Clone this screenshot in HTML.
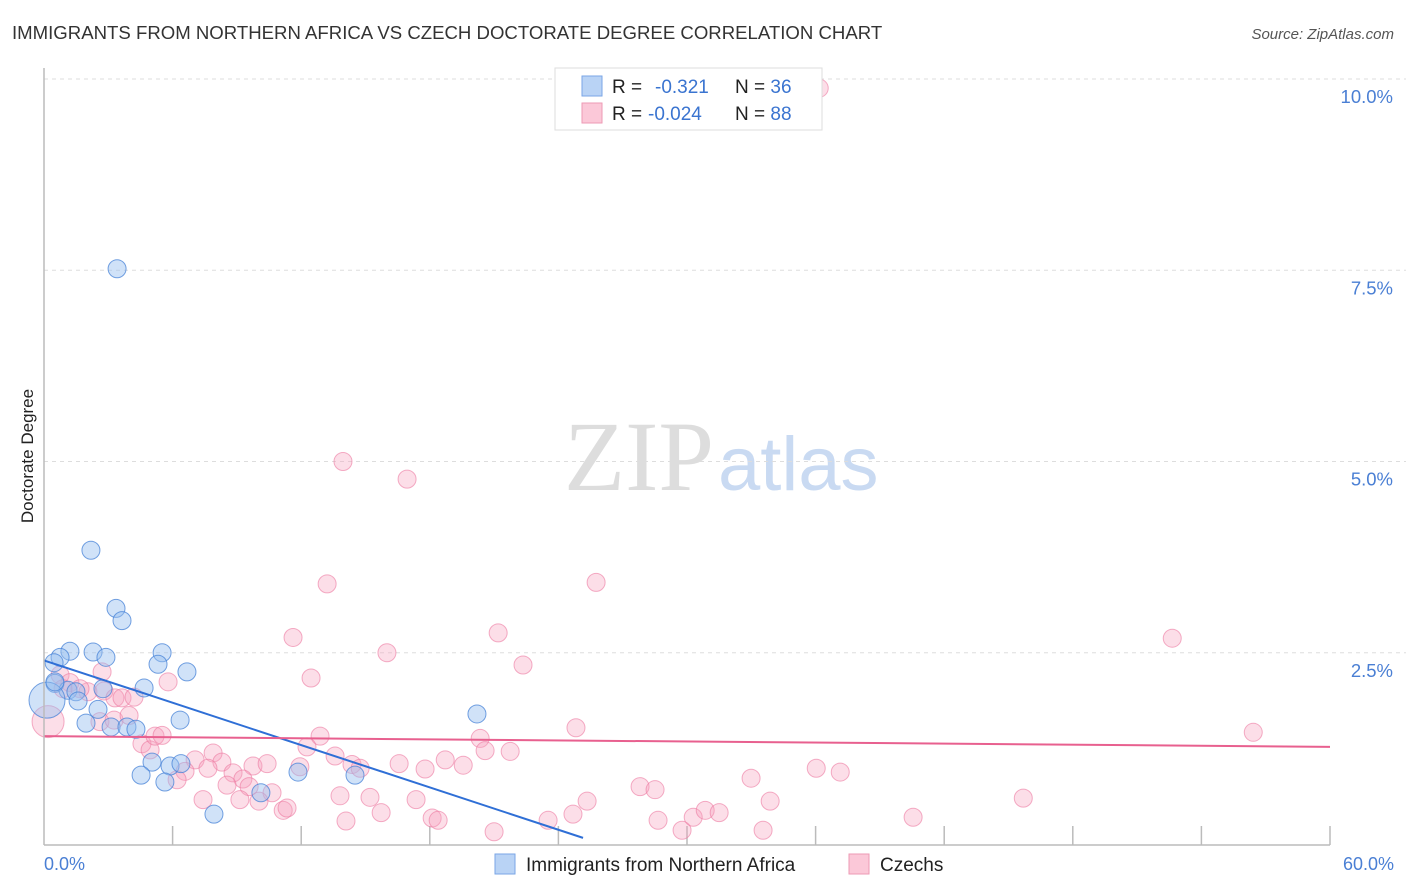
<!DOCTYPE html>
<html><head><meta charset="utf-8"><style>
body{margin:0;background:#fff;font-family:"Liberation Sans",sans-serif;}
svg{display:block}
</style></head><body>
<svg id="c" width="1406" height="892">
<text x="12" y="39" font-size="18.6" fill="#333">IMMIGRANTS FROM NORTHERN AFRICA VS CZECH DOCTORATE DEGREE CORRELATION CHART</text>
<text x="1394" y="39" font-size="15" fill="#555" font-style="italic" text-anchor="end">Source: ZipAtlas.com</text>
<text x="714" y="490" font-size="100" fill="#ddd" font-family="Liberation Serif" text-anchor="end">ZIP</text>
<text x="718" y="490" font-size="76" fill="#c9daf2">atlas</text>
<text transform="translate(33,456) rotate(-90)" font-size="17" fill="#222" text-anchor="middle">Doctorate Degree</text>
<g id="grid"></g><g id="pts"></g><g id="lines"></g>
<line x1="44" y1="68" x2="44" y2="845" stroke="#bbb" stroke-width="1.5"/>
<line x1="44" y1="845" x2="1330" y2="845" stroke="#bbb" stroke-width="1.5"/>
<text x="44" y="870" font-size="18" fill="#4a7fd4">0.0%</text>
<text x="1394" y="870" font-size="18" fill="#4a7fd4" text-anchor="end">60.0%</text>
<g>
<rect x="555" y="68" width="267" height="62" fill="#fff" stroke="#ddd"/>
<rect x="582" y="76" width="20" height="20" fill="#b9d3f5" stroke="#7aa6e6"/>
<rect x="582" y="103" width="20" height="20" fill="#fbc8d8" stroke="#ee9ab4"/>
<text x="612" y="93" font-size="19" fill="#222">R = <tspan fill="#3a74d0" x="655">-0.321</tspan><tspan fill="#222" x="735">N = </tspan><tspan fill="#3a74d0">36</tspan></text>
<text x="612" y="120" font-size="19" fill="#222">R = <tspan fill="#3a74d0" x="648">-0.024</tspan><tspan fill="#222" x="735">N = </tspan><tspan fill="#3a74d0">88</tspan></text>
</g>
<g>
<rect x="495" y="854" width="20" height="20" fill="#b9d3f5" stroke="#7aa6e6"/>
<text x="526" y="871" font-size="19" fill="#222">Immigrants from Northern Africa</text>
<rect x="849" y="854" width="20" height="20" fill="#fbc8d8" stroke="#ee9ab4"/>
<text x="880" y="871" font-size="19" fill="#222">Czechs</text>
</g>
</svg>
<script>
const yTicks=[2.5,5,7.5,10];
const yTickLabels=["2.5%","5.0%","7.5%","10.0%"];
const blueX=[3.41,2.19,3.36,3.64,1.21,2.29,2.89,5.51,5.32,6.67,0.75,0.47,0.51,1.12,2.75,4.67,1.49,1.59,2.52,6.35,1.96,3.13,3.87,4.29,5.04,5.88,6.39,4.53,5.64,7.93,10.12,11.85,14.51,20.2,0.14,0.51];
const blueY=[7.52,3.84,3.08,2.92,2.52,2.51,2.44,2.5,2.35,2.25,2.44,2.37,2.1,2.01,2.03,2.04,1.99,1.87,1.76,1.62,1.58,1.53,1.53,1.5,1.07,1.02,1.05,0.9,0.81,0.39,0.67,0.94,0.9,1.7,1.88,2.12];
const blueR=[9,9,9,9,9,9,9,9,9,9,9,9,9,9,9,9,9,9,9,9,9,9,9,9,9,9,9,9,9,9,9,9,9,9,18,9];
const pinkX=[36.17,13.95,16.94,13.21,25.76,11.62,21.19,52.64,16.0,22.35,12.46,56.42,24.82,2.71,5.79,0.75,1.21,2.05,2.8,3.31,3.64,4.2,0.89,1.68,0.19,2.61,3.27,3.97,4.57,4.95,5.18,5.51,12.88,12.27,13.58,20.35,20.58,21.75,7.89,7.05,8.3,7.65,6.58,6.21,8.82,9.75,10.41,9.28,8.54,9.57,11.94,14.37,14.75,16.57,17.78,18.72,19.56,10.64,10.03,9.14,7.42,11.16,11.34,13.81,15.21,17.36,18.11,18.39,15.73,14.09,21.0,23.52,24.68,25.34,27.81,28.51,28.65,29.77,30.29,30.85,31.5,32.99,33.88,33.55,36.03,37.15,40.55,45.69];
const pinkY=[9.88,5.0,4.77,3.4,3.42,2.7,2.76,2.69,2.5,2.34,2.17,1.46,1.52,2.25,2.12,2.21,2.11,1.99,2.0,1.91,1.91,1.92,2.03,2.03,1.6,1.6,1.62,1.68,1.31,1.23,1.41,1.42,1.41,1.27,1.15,1.38,1.22,1.21,1.19,1.1,1.07,0.99,0.95,0.84,0.93,1.02,1.05,0.85,0.77,0.75,1.01,1.04,0.99,1.05,0.98,1.1,1.03,0.67,0.56,0.58,0.58,0.44,0.47,0.63,0.61,0.58,0.34,0.31,0.41,0.3,0.16,0.31,0.39,0.56,0.75,0.71,0.31,0.18,0.35,0.44,0.41,0.86,0.56,0.18,0.99,0.94,0.35,0.6];
const pinkR=[9,9,9,9,9,9,9,9,9,9,9,9,9,9,9,9,9,9,9,9,9,9,9,9,16,9,9,9,9,9,9,9,9,9,9,9,9,9,9,9,9,9,9,9,9,9,9,9,9,9,9,9,9,9,9,9,9,9,9,9,9,9,9,9,9,9,9,9,9,9,9,9,9,9,9,9,9,9,9,9,9,9,9,9,9,9,9,9];
const blueLine=[0,2.4,25.15,0.08];
const pinkLine=[0,1.41,60,1.27];
const xTicks=[6,12,18,24,30,36,42,48,54,60];
const NS='http://www.w3.org/2000/svg';
const sx=v=>44+v/60*1286, sy=v=>844-v*76.5;
function mk(t,a,p){const e=document.createElementNS(NS,t);for(const k in a)e.setAttribute(k,a[k]);p.appendChild(e);return e;}
const grid=document.getElementById('grid'),pts=document.getElementById('pts'),lines=document.getElementById('lines');
yTicks.forEach((v,i)=>{
 const l=mk('line',{x1:44,x2:1420,y1:sy(v),y2:sy(v),stroke:'#ddd','stroke-dasharray':'4,4'},grid);
 
 
 const t=mk('text',{x:1393,y:sy(v)+24,'font-size':18.5,fill:'#4a7fd4','text-anchor':'end'},grid);
 t.textContent=yTickLabels[i];
 
 
});
xTicks.forEach(v=>{
 const l=mk('line',{x1:sx(v),x2:sx(v),y1:826,y2:845,stroke:'#bbb','stroke-width':1.5},grid);
 
 
});
pinkX.forEach((v,i)=>{
 const c=mk('circle',{cx:sx(v),cy:sy(pinkY[i]),r:pinkR[i],fill:'rgba(247,160,190,0.35)',stroke:'rgba(236,120,160,0.6)','stroke-width':1},pts);
 
 
});
blueX.forEach((v,i)=>{
 const c=mk('circle',{cx:sx(v),cy:sy(blueY[i]),r:blueR[i],fill:'rgba(150,190,240,0.45)',stroke:'rgba(70,130,215,0.75)','stroke-width':1},pts);
 
 
});
const bl=mk('line',{x1:sx(blueLine[0]),y1:sy(blueLine[1]),x2:sx(blueLine[2]),y2:sy(blueLine[3]),stroke:'#2f6fd6','stroke-width':2},lines);


const pl=mk('line',{x1:sx(pinkLine[0]),y1:sy(pinkLine[1]),x2:sx(pinkLine[2]),y2:sy(pinkLine[3]),stroke:'#e8608f','stroke-width':2},lines);


</script>
</body></html>
